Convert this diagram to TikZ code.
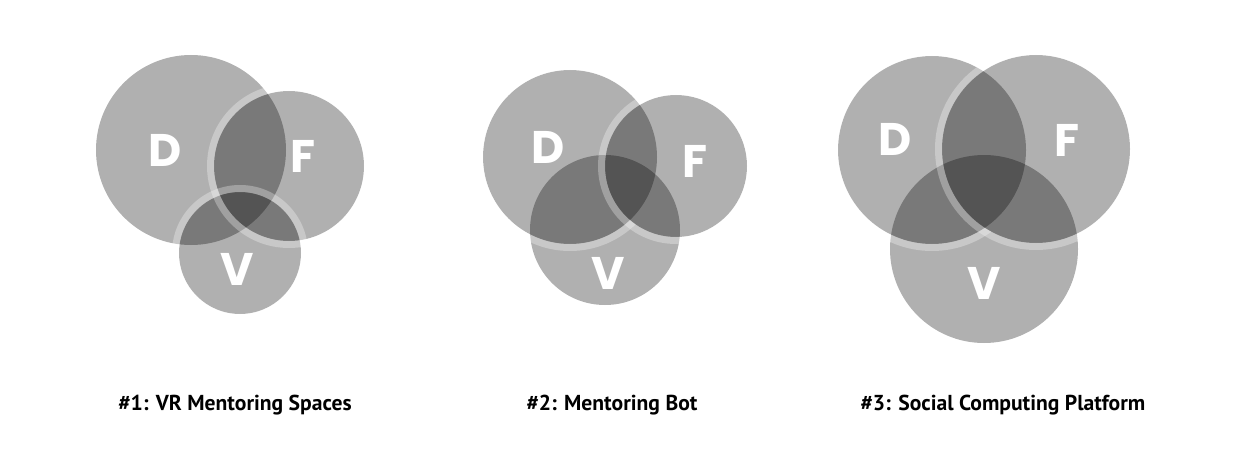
\documentclass[tikz,border=0pt]{standalone}
\usepackage{fontspec}
\setmainfont{PT Sans}
\newfontfamily\letterfont{Poppins}
\usetikzlibrary{positioning}

\begin{document}
\begin{tikzpicture}[x=0.02cm,y=-0.02cm,
  set/.style={fill=black,fill opacity=0.31},
  ring/.style={draw=white,draw opacity=0.3,line width=0.14cm},
  letter/.style={text=white,inner sep=0pt,
    font=\letterfont\bfseries\fontsize{26}{26}\selectfont},
  caption/.style={inner sep=0pt,font=\bfseries\fontsize{12.3}{14}\selectfont}
]
\useasboundingbox (0,0) rectangle (1250,466);

% #1
\coordinate (d1) at (191,150);
\coordinate (f1) at (289,166);
\coordinate (v1) at (240,253);
\fill[set] (d1) circle (95);
\fill[set] (f1) circle (75);
\fill[set] (v1) circle (61);
\draw[ring] (f1) circle (78.5);
\draw[ring] (v1) circle (64.5);
\node[letter] (dlab1) at (165,150) {D};
\node[letter] (flab1) at (303,156) {F};
\node[letter] (vlab1) at (237,269) {V};
\node[caption] (cap1) at (235,405) {\#1: VR Mentoring Spaces};

% #2
\coordinate (d2) at (570,157);
\coordinate (f2) at (676,166);
\coordinate (v2) at (605,230);
\fill[set] (v2) circle (75);
\fill[set] (d2) circle (87);
\fill[set] (f2) circle (71);
\begin{scope}[even odd rule]
  \clip (0,0) rectangle (1250,466) (f2) circle (71);
  \draw[ring] (d2) circle (90.5);
\end{scope}
\draw[ring] (f2) circle (74.5);
\node[letter] (dlab2) at (548,147) {D};
\node[letter] (flab2) at (695,161) {F};
\node[letter] (vlab2) at (608,273) {V};
\node[caption] (cap2) at (612,405) {\#2: Mentoring Bot};

% #3
\coordinate (d3) at (932,150);
\coordinate (f3) at (1036,149);
\coordinate (v3) at (984,249);
\fill[set] (v3) circle (94);
\fill[set] (d3) circle (94);
\fill[set] (f3) circle (94);
\begin{scope}[even odd rule]
  \clip (0,0) rectangle (1250,466) (f3) circle (94);
  \draw[ring] (d3) circle (97.5);
\end{scope}
\draw[ring] (f3) circle (97.5);
\node[letter] (dlab3) at (895,139) {D};
\node[letter] (flab3) at (1067,140) {F};
\node[letter] (vlab3) at (984,283) {V};
\node[caption] (cap3) at (1003,405) {\#3: Social Computing Platform};
\end{tikzpicture}
\end{document}
